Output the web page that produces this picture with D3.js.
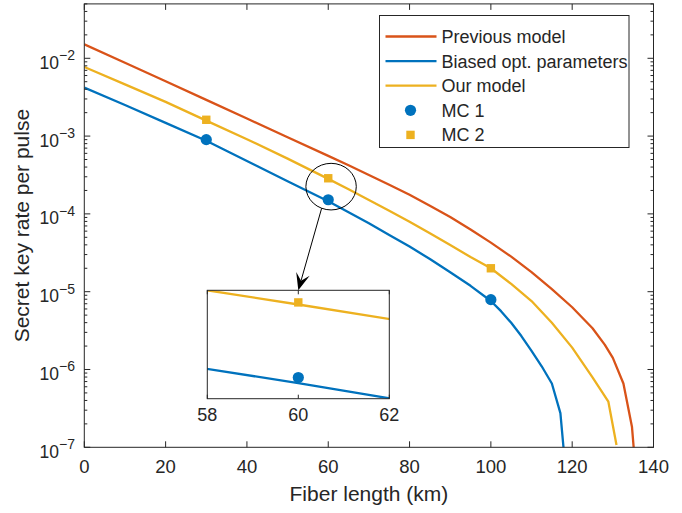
<!DOCTYPE html>
<html>
<head>
<meta charset="utf-8">
<script src="https://cdn.jsdelivr.net/npm/d3@7"></script>
<style>
  body { margin: 0; background: #fff; }
  text { font-family: "Liberation Sans", Arial, Helvetica, sans-serif; fill: #262626; }
</style>
</head>
<body>
<div id="chart"></div>
<script>
// Data
var prevKm   = [0, 10, 20, 30, 40, 50, 60, 65, 70, 75, 80, 85, 90, 95, 100, 105, 110, 115, 120, 125, 128, 130,
                132.6, 134.7, 135.2];
var prevRate = [1.51e-2, 8.75e-3, 5.07e-3, 2.92e-3, 1.68e-3, 9.66e-4, 5.56e-4, 4.22e-4, 3.16e-4, 2.37e-4,
                1.76e-4, 1.27e-4, 9.12e-5, 6.31e-5, 4.27e-5, 2.82e-5, 1.78e-5, 1.08e-5, 6.31e-6, 3.39e-6,
                2.09e-6, 1.41e-6, 6.61e-7, 1.84e-7, 8.9e-8];

var biasKm   = [0, 10, 20, 30, 40, 50, 60, 65, 70, 75, 80, 85, 90, 95, 100, 102.5, 105, 107.5, 110, 112.5,
                115, 117.1, 117.9];
var biasRate = [4.19e-3, 2.51e-3, 1.48e-3, 8.71e-4, 4.79e-4, 2.63e-4, 1.45e-4, 1.05e-4, 7.59e-5, 5.37e-5,
                3.80e-5, 2.63e-5, 1.78e-5, 1.19e-5, 7.59e-6, 5.62e-6, 3.98e-6, 2.69e-6, 1.74e-6, 1.10e-6,
                6.61e-7, 2.75e-7, 9.5e-8];

var ourKm    = [0, 10, 20, 30, 40, 50, 60, 65, 70, 75, 80, 85, 90, 95, 100, 105, 110, 115, 120, 125,
                128.9, 130.9];
var ourRate  = [7.73e-3, 4.62e-3, 2.75e-3, 1.58e-3, 9.12e-4, 5.13e-4, 2.82e-4, 2.07e-4, 1.51e-4, 1.10e-4,
                7.94e-5, 5.62e-5, 3.98e-5, 2.79e-5, 2.0e-5, 1.26e-5, 7.59e-6, 3.98e-6, 1.91e-6, 7.94e-7,
                3.85e-7, 1.07e-7];

var mcKm   = [30, 60, 100];
var mc1    = [9.0e-4, 1.52e-4, 7.9e-6];
var mc2    = [1.62e-3, 2.87e-4, 2.0e-5];

var xTicks = [0, 20, 40, 60, 80, 100, 120, 140];
var yExps  = [-7, -6, -5, -4, -3, -2];
var insetTicks = [58, 60, 62];

var seriesNames = ["Previous model", "Biased opt. parameters", "Our model", "MC 1", "MC 2"];

var red = "#D95319", blue = "#0072BD", yellow = "#EDB120", axisCol = "#262626";

var width = 682, height = 513;
var svg = d3.select("#chart").append("svg")
    .attr("width", width)
    .attr("height", height);

var x = d3.scaleLinear().domain([0, 140]).range([84.3, 653.5]);
var y = d3.scaleLog().domain([1e-7, 0.05]).range([447.3, 3.9]);

function pairs(a, b) { return a.map(function(d, i) { return [d, b[i]]; }); }

var curves = [
  {data: pairs(prevKm, prevRate), color: red},
  {data: pairs(biasKm, biasRate), color: blue},
  {data: pairs(ourKm, ourRate), color: yellow}
];

svg.append("clipPath").attr("id", "plotClip")
  .append("rect")
    .attr("x", x(0)).attr("y", y(0.05))
    .attr("width", x(140) - x(0)).attr("height", y(1e-7) - y(0.05));

var line = d3.line()
    .x(function(d) { return x(d[0]); })
    .y(function(d) { return y(d[1]); });

svg.append("g").attr("clip-path", "url(#plotClip)")
  .selectAll("path")
  .data(curves)
  .join("path")
    .attr("d", function(d) { return line(d.data); })
    .attr("fill", "none")
    .attr("stroke", function(d) { return d.color; })
    .attr("stroke-width", 2.3)
    .attr("stroke-linejoin", "round");

// MC markers
svg.selectAll("circle.mc1")
  .data(pairs(mcKm, mc1))
  .join("circle").attr("class", "mc1")
    .attr("cx", function(d) { return x(d[0]); })
    .attr("cy", function(d) { return y(d[1]); })
    .attr("r", 5.6)
    .attr("fill", blue);

svg.selectAll("rect.mc2")
  .data(pairs(mcKm, mc2))
  .join("rect").attr("class", "mc2")
    .attr("x", function(d) { return x(d[0]) - 4.2; })
    .attr("y", function(d) { return y(d[1]) - 4.2; })
    .attr("width", 8.4).attr("height", 8.4)
    .attr("fill", yellow);

// axes frame and ticks
var x0 = x(0), x1 = x(140), yb = y(1e-7), yt = y(0.05);
var axes = svg.append("g").attr("stroke", axisCol).attr("stroke-width", 1).attr("fill", "none");

axes.append("rect")
    .attr("x", x0).attr("y", yt)
    .attr("width", x1 - x0).attr("height", yb - yt);

xTicks.forEach(function(t) {
  axes.append("line").attr("x1", x(t)).attr("x2", x(t)).attr("y1", yb).attr("y2", yb - 6);
  axes.append("line").attr("x1", x(t)).attr("x2", x(t)).attr("y1", yt).attr("y2", yt + 6);
});

var minor = [];
d3.range(-7, -1).forEach(function(e) {
  d3.range(1, 10).forEach(function(m) {
    var v = m * Math.pow(10, e);
    if (v <= 0.05) minor.push({v: v, major: m === 1});
  });
});
minor.forEach(function(t) {
  var len = t.major ? 6 : 3;
  axes.append("line").attr("x1", x0).attr("x2", x0 + len).attr("y1", y(t.v)).attr("y2", y(t.v));
  axes.append("line").attr("x1", x1).attr("x2", x1 - len).attr("y1", y(t.v)).attr("y2", y(t.v));
});

svg.selectAll("text.xtick")
  .data(xTicks)
  .join("text").attr("class", "xtick")
    .attr("x", function(d) { return x(d); })
    .attr("y", yb + 26)
    .attr("text-anchor", "middle")
    .style("font-size", "18.5px")
    .text(function(d) { return d; });

var yl = svg.selectAll("text.ytick")
  .data(yExps)
  .join("text").attr("class", "ytick")
    .attr("x", 75)
    .attr("y", function(d) { return y(Math.pow(10, d)) + 10.5; })
    .attr("text-anchor", "end")
    .style("font-size", "17.5px");
yl.append("tspan").text("10");
yl.append("tspan").attr("dy", -8.5).style("font-size", "14px")
    .text(function(d) { return "\u2212" + Math.abs(d); });

svg.append("text")
    .attr("x", (x0 + x1) / 2).attr("y", 501)
    .attr("text-anchor", "middle")
    .style("font-size", "21px")
    .text("Fiber length (km)");

svg.append("text")
    .attr("transform", "translate(29," + ((yt + yb) / 2) + ") rotate(-90)")
    .attr("text-anchor", "middle")
    .style("font-size", "21px")
    .text("Secret key rate per pulse");

// legend
var lg = svg.append("g").attr("transform", "translate(379.5,15.5)");
lg.append("rect").attr("width", 249.5).attr("height", 132)
    .attr("fill", "#fff").attr("stroke", axisCol).attr("stroke-width", 1);
var legendItems = [
  {name: seriesNames[0], color: red, kind: "line"},
  {name: seriesNames[1], color: blue, kind: "line"},
  {name: seriesNames[2], color: yellow, kind: "line"},
  {name: seriesNames[3], color: blue, kind: "circle"},
  {name: seriesNames[4], color: yellow, kind: "square"}
];
legendItems.forEach(function(d, i) {
  var cy = 21 + i * 24.6;
  if (d.kind === "line") {
    lg.append("line").attr("x1", 6).attr("x2", 57).attr("y1", cy).attr("y2", cy)
      .attr("stroke", d.color).attr("stroke-width", 2.3);
  } else if (d.kind === "circle") {
    lg.append("circle").attr("cx", 31).attr("cy", cy).attr("r", 5.6).attr("fill", d.color);
  } else {
    lg.append("rect").attr("x", 26.8).attr("y", cy - 4.2).attr("width", 8.4).attr("height", 8.4).attr("fill", d.color);
  }
  lg.append("text").attr("x", 62).attr("y", cy + 6.5)
    .style("font-size", "18px").text(d.name);
});

// zoom annotation: ellipse + arrow
var ell = {km: 60.7, rate: 2.24e-4, rx: 25.2, ry: 23.3};
var ecx = x(ell.km), ecy = y(ell.rate);
svg.append("ellipse")
    .attr("cx", ecx).attr("cy", ecy).attr("rx", ell.rx).attr("ry", ell.ry)
    .attr("fill", "none").attr("stroke", "#000").attr("stroke-width", 1);

// inset
var ix = d3.scaleLinear().domain([58, 62]).range([207.3, 389.3]);
var iy = d3.scaleLog().domain([1.27e-4, 3.18e-4]).range([398.7, 290.3]);

var ang = 112 * Math.PI / 180;
var ax0 = ecx + ell.rx * Math.cos(ang), ay0 = ecy + ell.ry * Math.sin(ang);
var ax1 = ix(60), ay1 = iy.range()[1];
var dx = ax1 - ax0, dy = ay1 - ay0, L = Math.sqrt(dx * dx + dy * dy);
var ux = dx / L, uy = dy / L, px = -uy, py = ux;
var hl = 17, hw = 7, notch = 10;
svg.append("line")
    .attr("x1", ax0).attr("y1", ay0)
    .attr("x2", ax1 - ux * notch).attr("y2", ay1 - uy * notch)
    .attr("stroke", "#000").attr("stroke-width", 1);
svg.append("path")
    .attr("d", "M" + ax1 + "," + ay1 +
      "L" + (ax1 - ux * hl + px * hw) + "," + (ay1 - uy * hl + py * hw) +
      "L" + (ax1 - ux * notch) + "," + (ay1 - uy * notch) +
      "L" + (ax1 - ux * hl - px * hw) + "," + (ay1 - uy * hl - py * hw) + "Z")
    .attr("fill", "#000");

var ig = svg.append("g");
ig.append("clipPath").attr("id", "insetClip")
  .append("rect")
    .attr("x", ix(58)).attr("y", iy(3.18e-4))
    .attr("width", ix(62) - ix(58)).attr("height", iy(1.27e-4) - iy(3.18e-4));
ig.append("rect")
    .attr("x", ix(58)).attr("y", iy(3.18e-4))
    .attr("width", ix(62) - ix(58)).attr("height", iy(1.27e-4) - iy(3.18e-4))
    .attr("fill", "#fff");

var iline = d3.line()
    .x(function(d) { return ix(d[0]); })
    .y(function(d) { return iy(d[1]); });
var ic = ig.append("g").attr("clip-path", "url(#insetClip)");
ic.selectAll("path")
  .data(curves.slice(1))
  .join("path")
    .attr("d", function(d) { return iline(d.data); })
    .attr("fill", "none")
    .attr("stroke", function(d) { return d.color; })
    .attr("stroke-width", 2.3);

function inInset(d) { return d[0] >= 58 && d[0] <= 62 && d[1] >= 1.27e-4 && d[1] <= 3.18e-4; }
ig.selectAll("circle")
  .data(pairs(mcKm, mc1).filter(inInset))
  .join("circle")
    .attr("cx", function(d) { return ix(d[0]); })
    .attr("cy", function(d) { return iy(d[1]); })
    .attr("r", 5.6).attr("fill", blue);
ig.selectAll("rect.sq")
  .data(pairs(mcKm, mc2).filter(inInset))
  .join("rect").attr("class", "sq")
    .attr("x", function(d) { return ix(d[0]) - 4.2; })
    .attr("y", function(d) { return iy(d[1]) - 4.2; })
    .attr("width", 8.4).attr("height", 8.4).attr("fill", yellow);

var ib = iy(1.27e-4), it = iy(3.18e-4);
var iaxes = ig.append("g").attr("stroke", axisCol).attr("stroke-width", 1).attr("fill", "none");
iaxes.append("rect")
    .attr("x", ix(58)).attr("y", it)
    .attr("width", ix(62) - ix(58)).attr("height", ib - it);
insetTicks.forEach(function(t) {
  iaxes.append("line").attr("x1", ix(t)).attr("x2", ix(t)).attr("y1", ib).attr("y2", ib - 4);
  iaxes.append("line").attr("x1", ix(t)).attr("x2", ix(t)).attr("y1", it).attr("y2", it + 4);
});
ig.selectAll("text")
  .data(insetTicks)
  .join("text")
    .attr("x", function(d) { return ix(d); })
    .attr("y", ib + 22)
    .attr("text-anchor", "middle")
    .style("font-size", "18px")
    .text(function(d) { return d; });
</script>
</body>
</html>
